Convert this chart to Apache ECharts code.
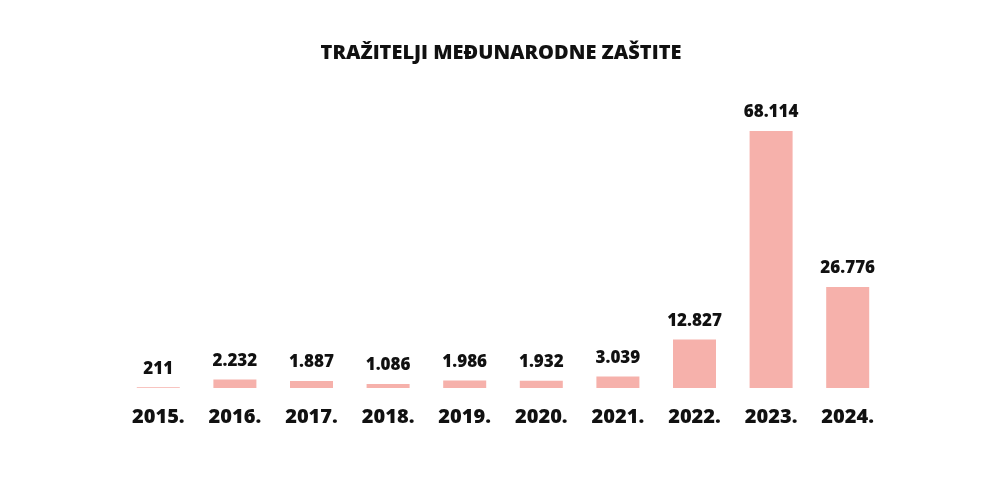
<!DOCTYPE html>
<html><head><meta charset="utf-8">
<script src="https://cdn.jsdelivr.net/npm/echarts@6/dist/echarts.min.js"></script>
<style>html,body{margin:0;padding:0;background:#fff}#c{width:1002px;height:492px}</style>
</head><body><div id="c"></div>
<script>
const categories = ['2015.','2016.','2017.','2018.','2019.','2020.','2021.','2022.','2023.','2024.'];
const values = [211,2232,1887,1086,1986,1932,3039,12827,68114,26776];
const fmt = v => String(v).replace(/\B(?=(\d{3})+(?!\d))/g, '.');
const chart = echarts.init(document.getElementById('c'));
chart.setOption({
  animation:false,
  title:{text:'TRAŽITELJI MEĐUNARODNE ZAŠTITE',left:'center',top:38,
    textStyle:{fontFamily:'Open Sans',fontWeight:800,fontSize:20,color:'#111'}},
  grid:{left:120,right:116,top:131,bottom:104},
  xAxis:{type:'category',data:categories,axisLine:{show:false},axisTick:{show:false},
    axisLabel:{margin:19,fontFamily:'Open Sans',fontWeight:800,fontSize:20,color:'#111'}},
  yAxis:{type:'value',min:0,max:v=>v.max,show:false,splitLine:{show:false}},
  series:[{type:'bar',data:values,barWidth:43,itemStyle:{color:'#f6b1ab'},
    label:{show:true,position:'top',distance:10,formatter:p=>fmt(p.value),
      fontFamily:'Open Sans',fontWeight:800,fontSize:17,color:'#111'}}]
});
</script></body></html>
